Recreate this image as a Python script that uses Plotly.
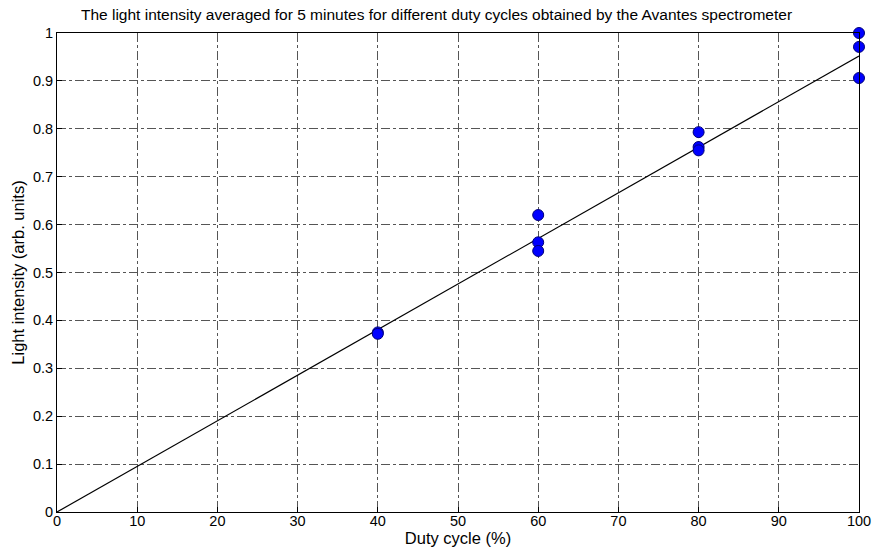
import plotly.graph_objects as go

duty = [40, 40, 60, 60, 60, 80, 80, 80, 100, 100, 100]
intensity = [0.375, 0.372, 0.620, 0.563, 0.545, 0.793, 0.762, 0.755, 1.0, 0.971, 0.906]
fit_x = [0, 100]
fit_y = [0, 0.952]
x_ticks = [0, 10, 20, 30, 40, 50, 60, 70, 80, 90, 100]
y_ticks = [0, 0.1, 0.2, 0.3, 0.4, 0.5, 0.6, 0.7, 0.8, 0.9, 1]
y_tick_labels = ["0", "0.1", "0.2", "0.3", "0.4", "0.5", "0.6", "0.7", "0.8", "0.9", "1"]

fig = go.Figure()
fig.add_trace(go.Scatter(x=fit_x, y=fit_y, mode="lines",
                         line=dict(color="black", width=1.2), showlegend=False, cliponaxis=False))
fig.add_trace(go.Scatter(x=duty, y=intensity, mode="markers",
                         marker=dict(color="#0000ff", size=11, line=dict(color="#00007a", width=1)),
                         showlegend=False, cliponaxis=False))

font = dict(family="Liberation Sans, Arial, sans-serif", size=15, color="black")
fig.update_layout(
    width=873, height=552,
    margin=dict(l=57, r=14, t=33, b=40, autoexpand=False),
    paper_bgcolor="white", plot_bgcolor="white",
    font=font,
    title=dict(text="The light intensity averaged for 5 minutes for different duty cycles obtained by the Avantes spectrometer",
               x=0.5, xanchor="center", y=1 - 15 / 552, yanchor="middle", font=dict(size=15.5)),
    xaxis=dict(range=[0, 100], tickvals=x_ticks, ticks="inside", ticklen=5, tickcolor="black",
               showline=True, linecolor="black", mirror=True, linewidth=1, automargin=False,
               tickfont=dict(size=14.5), ticklabelstandoff=-4,
               showgrid=True, gridcolor="#555555", griddash="dashdot", gridwidth=1,
               zeroline=False, title=dict(text="Duty cycle (%)", standoff=0, font=dict(size=16.5))),
    yaxis=dict(range=[0, 1], tickvals=y_ticks, ticktext=y_tick_labels, ticks="inside", ticklen=5,
               tickcolor="black", showline=True, linecolor="black", mirror=True, linewidth=1,
               automargin=False, tickfont=dict(size=14.5),
               showgrid=True, gridcolor="#555555", griddash="dashdot", gridwidth=1,
               zeroline=False, title=dict(text="Light intensity (arb. units)", standoff=4,
                                          font=dict(size=16.5))),
)
fig.write_html("out.html")
